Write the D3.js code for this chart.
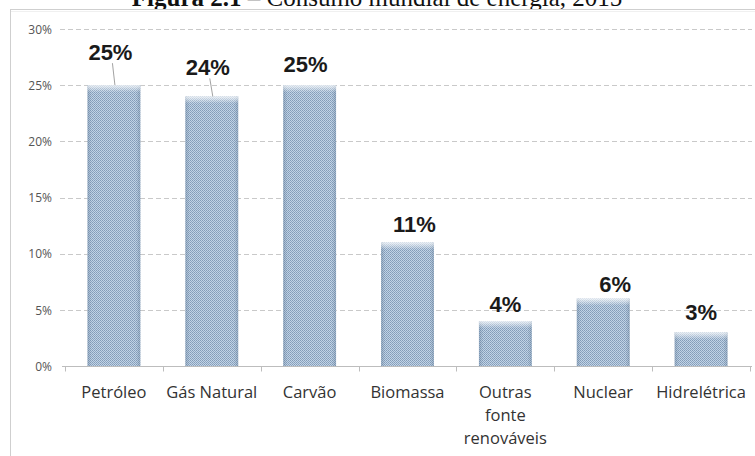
<!DOCTYPE html>
<html>
<head>
<meta charset="utf-8">
<script src="https://cdn.jsdelivr.net/npm/d3@7"></script>
<style>
  html, body { margin: 0; padding: 0; background: #fff; }
  svg { display: block; }
</style>
</head>
<body>
<svg id="chart" width="755" height="456"></svg>
<script>
// Energy sources and their share of world energy consumption
const categories = ["Petróleo", "Gás Natural", "Carvão", "Biomassa", "Outras fonte renováveis", "Nuclear", "Hidrelétrica"];
const shares = [0.25, 0.24, 0.25, 0.11, 0.04, 0.06, 0.03];
const yTicks = [0, 0.05, 0.10, 0.15, 0.20, 0.25, 0.30];

// Label placement tweaks (horizontal nudge, gap above the bar in px)
const labelDx = [-3.5, -4, -4, 7, 0, 12, 0];
const labelGap = [25, 21, 13, 10, 9, 7, 12];

const W = 755, H = 456;
const svg = d3.select("#chart");

// Title line
const title = svg.append("text")
  .attr("x", 377).attr("y", 6)
  .attr("text-anchor", "middle")
  .style("font-family", "'Liberation Serif', 'Times New Roman', serif")
  .style("font-size", "25px")
  .attr("fill", "#111");
title.append("tspan").style("font-weight", "bold").text("Figura 2.1");
title.append("tspan").text(" \u2013  Consumo mundial de energia, 2015");

// Chart frame
svg.append("rect")
  .attr("x", 10.5).attr("y", 9.5)
  .attr("width", W).attr("height", H)
  .attr("fill", "#fff").attr("stroke", "#cfcfcf");
svg.append("line")
  .attr("x1", 11).attr("x2", W).attr("y1", 11.5).attr("y2", 11.5)
  .attr("stroke", "#f0f0f0");

// Bar texture
const defs = svg.append("defs");
const pat = defs.append("pattern")
  .attr("id", "dots").attr("patternUnits", "userSpaceOnUse")
  .attr("width", 2).attr("height", 2);
pat.append("rect").attr("width", 2).attr("height", 2).attr("fill", "#c2d3e5");
pat.append("rect").attr("width", 1).attr("height", 1).attr("fill", "#839cb8");
pat.append("rect").attr("x", 1).attr("y", 1).attr("width", 1).attr("height", 1).attr("fill", "#8ca6c2");

const sideGrad = defs.append("linearGradient").attr("id", "side")
  .attr("x1", "0").attr("x2", "1").attr("y1", "0").attr("y2", "0");
sideGrad.append("stop").attr("offset", "0").attr("stop-color", "#5c7590").attr("stop-opacity", 0.35);
sideGrad.append("stop").attr("offset", "0.08").attr("stop-color", "#5c7590").attr("stop-opacity", 0);
sideGrad.append("stop").attr("offset", "0.92").attr("stop-color", "#5c7590").attr("stop-opacity", 0);
sideGrad.append("stop").attr("offset", "1").attr("stop-color", "#5c7590").attr("stop-opacity", 0.35);

const topGrad = defs.append("linearGradient").attr("id", "topglow")
  .attr("x1", "0").attr("x2", "0").attr("y1", "0").attr("y2", "1");
topGrad.append("stop").attr("offset", "0").attr("stop-color", "#ffffff").attr("stop-opacity", 0.75);
topGrad.append("stop").attr("offset", "1").attr("stop-color", "#ffffff").attr("stop-opacity", 0);

// Scales
const x = d3.scaleBand()
  .domain(categories)
  .range([65, 750])
  .paddingInner(0.46)
  .paddingOuter(0.23);

const y = d3.scaleLinear()
  .domain([0, 0.30])
  .range([366, 29]);

// Gridlines
svg.append("g")
  .selectAll("line")
  .data(yTicks.filter(t => t > 0))
  .join("line")
  .attr("x1", 60).attr("x2", 752)
  .attr("y1", d => Math.round(y(d)) + 0.5).attr("y2", d => Math.round(y(d)) + 0.5)
  .attr("stroke", "#c9c9c9")
  .attr("stroke-dasharray", "5,3");

// Y axis labels
const yAxis = d3.axisLeft(y)
  .tickValues(yTicks)
  .tickFormat(d3.format(".0%"))
  .tickSize(0)
  .tickPadding(0);
const gy = svg.append("g").attr("transform", "translate(52,0)").call(yAxis);
gy.select(".domain").remove();
gy.selectAll("text")
  .style("font-family", "'Open Sans', sans-serif")
  .style("font-size", "12px")
  .attr("fill", "#555")
  .attr("dy", "0.35em");

// Baseline with category separators
const base = Math.round(y(0)) + 0.5;
svg.append("line")
  .attr("x1", 62).attr("x2", 752)
  .attr("y1", base).attr("y2", base)
  .attr("stroke", "#bdbdbd");
const step = x.step();
const edges = d3.range(categories.length + 1).map(i => x.range()[0] + i * step);
svg.append("g").selectAll("line")
  .data(edges)
  .join("line")
  .attr("x1", d => Math.round(d) + 0.5).attr("x2", d => Math.round(d) + 0.5)
  .attr("y1", base).attr("y2", base + 5)
  .attr("stroke", "#bdbdbd");

// Bars
const bars = svg.append("g").selectAll("g")
  .data(categories.map((c, i) => ({ c, v: shares[i], i })))
  .join("g");

bars.append("rect")
  .attr("x", d => x(d.c))
  .attr("y", d => y(d.v))
  .attr("width", x.bandwidth())
  .attr("height", d => y(0) - y(d.v))
  .attr("fill", "url(#dots)");
bars.append("rect")
  .attr("x", d => x(d.c))
  .attr("y", d => y(d.v))
  .attr("width", x.bandwidth())
  .attr("height", d => y(0) - y(d.v))
  .attr("fill", "url(#side)");
bars.append("rect")
  .attr("x", d => x(d.c))
  .attr("y", d => y(d.v))
  .attr("width", x.bandwidth())
  .attr("height", 7)
  .attr("fill", "url(#topglow)");

// Value labels
const fmt = d3.format(".0%");
bars.append("text")
  .attr("x", d => x(d.c) + x.bandwidth() / 2 + labelDx[d.i])
  .attr("y", d => y(d.v) - labelGap[d.i])
  .attr("text-anchor", "middle")
  .style("font-family", "'Liberation Sans', Arial, sans-serif")
  .style("font-weight", "bold")
  .style("font-size", "22px")
  .attr("fill", "#1a1a1a")
  .text(d => fmt(d.v));

// Leader lines for labels lifted away from their bars
bars.filter(d => labelGap[d.i] > 18)
  .append("line")
  .attr("x1", d => x(d.c) + x.bandwidth() / 2 + labelDx[d.i] + 2)
  .attr("y1", d => y(d.v) - labelGap[d.i] + 3)
  .attr("x2", d => x(d.c) + x.bandwidth() / 2 + 1)
  .attr("y2", d => y(d.v))
  .attr("stroke", "#8a8a8a")
  .attr("stroke-width", 0.8);

// Category labels (wrapped onto lines)
const wrapAt = { "Outras fonte renováveis": ["Outras", "fonte", "renováveis"] };
const cat = svg.append("g").selectAll("text")
  .data(categories)
  .join("text")
  .attr("x", d => x(d) + x.bandwidth() / 2)
  .attr("y", 398)
  .attr("text-anchor", "middle")
  .style("font-family", "'Open Sans', sans-serif")
  .style("font-size", "16.5px")
  .attr("fill", "#333");
cat.each(function (d) {
  const lines = wrapAt[d] || [d];
  const t = d3.select(this);
  lines.forEach((ln, k) => {
    t.append("tspan")
      .attr("x", x(d) + x.bandwidth() / 2)
      .attr("dy", k === 0 ? 0 : 23)
      .text(ln);
  });
});
</script>
</body>
</html>
